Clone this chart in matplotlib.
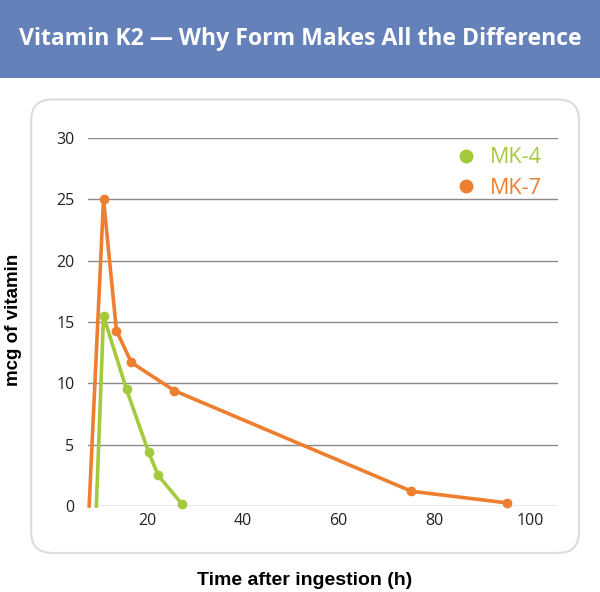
"""Vitamin K2 serum levels after ingestion: MK-4 vs MK-7."""
import matplotlib
matplotlib.use("Agg")

import matplotlib.pyplot as plt
from matplotlib.lines import Line2D
from matplotlib.patches import FancyBboxPatch, Rectangle

_GREEN = "#a5c93c"
_ORANGE = "#ee7f30"
_BANNER = "#6581b9"
_GRID = "#8a8a8a"

# hours after ingestion, mcg of vitamin
MK4_HOURS = [9.4, 10.9, 15.7, 20.3, 22.3, 27.3]
MK4_LEVEL = [0.0, 15.5, 9.5, 4.4, 2.5, 0.15]
MK7_HOURS = [7.9, 10.9, 13.6, 16.7, 25.7, 75.2, 95.2]
MK7_LEVEL = [0.0, 25.0, 14.3, 11.7, 9.4, 1.2, 0.25]

Y_TICKS = [0, 5, 10, 15, 20, 25, 30]
X_TICKS = [20, 40, 60, 80, 100]

fig = plt.figure(figsize=(6.0, 5.92), dpi=100)
fig.patch.set_facecolor("white")

# title banner
fig.patches.append(Rectangle((0, 0.868), 1, 0.132, transform=fig.transFigure,
                             facecolor=_BANNER, edgecolor="none", zorder=0))
fig.text(0.5, 0.934, "Vitamin K2 \u2014 Why Form Makes All the Difference",
         ha="center", va="center", color="white", fontsize=16.6,
         fontweight="bold", family="Open Sans")

# rounded card behind the plot
fig.patches.append(FancyBboxPatch((0.052, 0.066), 0.913, 0.766,
                                  boxstyle="round,pad=0,rounding_size=0.035",
                                  transform=fig.transFigure, facecolor="white",
                                  edgecolor="#dcdcdc", lw=1.5, zorder=0))

ax = fig.add_axes([0.147, 0.1453, 0.783, 0.6216])
ax.set_zorder(2)
ax.set_facecolor("none")

ax.plot(MK4_HOURS, MK4_LEVEL, color=_GREEN, lw=2.6, marker="o", ms=6,
        markevery=list(range(1, len(MK4_HOURS))), zorder=3, clip_on=False)
ax.plot(MK7_HOURS, MK7_LEVEL, color=_ORANGE, lw=2.6, marker="o", ms=6,
        markevery=list(range(1, len(MK7_HOURS))), zorder=3, clip_on=False)

ax.set_xlim(7.7, 105.8)
ax.set_ylim(0, 30)
ax.set_yticks(Y_TICKS)
ax.set_xticks(X_TICKS)
ax.yaxis.grid(True, color=_GRID, lw=1.0)
ax.set_axisbelow(True)
ax.tick_params(length=0, labelsize=11.5, colors="#222222")
ax.tick_params(axis="y", pad=10)
ax.tick_params(axis="x", pad=5)
for lab in ax.get_xticklabels() + ax.get_yticklabels():
    lab.set_family("Open Sans")
for s in ax.spines.values():
    s.set_visible(False)

handles = [Line2D([], [], ls="none", marker="o", ms=9, color=_GREEN),
           Line2D([], [], ls="none", marker="o", ms=9, color=_ORANGE)]
ax.legend(handles, ["MK-4", "MK-7"], loc="upper right",
          bbox_to_anchor=(1.006, 1.028), frameon=False,
          labelcolor="markerfacecolor",
          prop={"family": "Open Sans", "size": 15.5}, handlelength=1.0,
          handletextpad=0.6, labelspacing=0.45)

fig.text(0.022, 0.46, "mcg of vitamin", rotation=90, ha="center", va="center",
         fontsize=13.5, fontweight="bold", family="Liberation Sans")
fig.text(0.508, 0.02, "Time after ingestion (h)", ha="center", va="center",
         fontsize=14, fontweight="bold", family="Liberation Sans")

fig.savefig("out.png", dpi=100, facecolor="white")
